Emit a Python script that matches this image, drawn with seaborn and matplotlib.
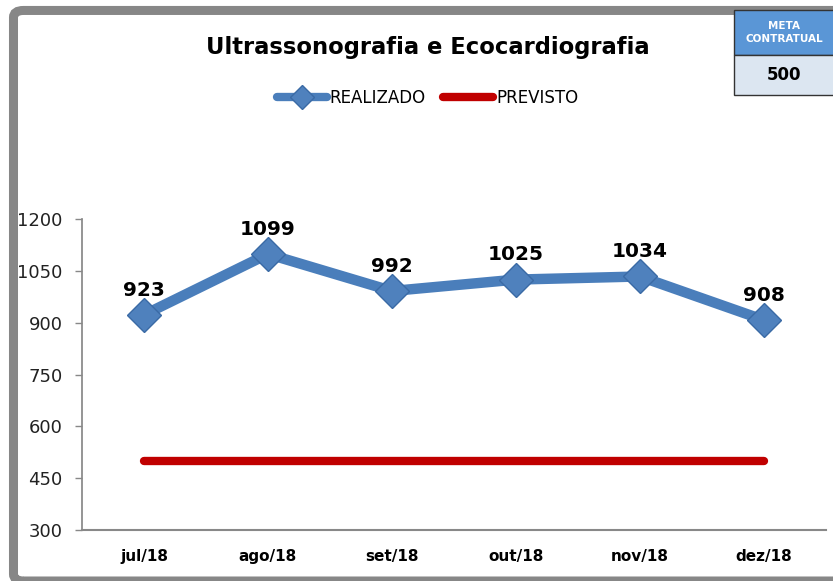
import pandas as pd
import matplotlib.pyplot as plt
import seaborn as sns
from matplotlib.patches import FancyBboxPatch, Rectangle
from matplotlib.lines import Line2D

meses = ['jul/18', 'ago/18', 'set/18', 'out/18', 'nov/18', 'dez/18']
realizado = [923, 1099, 992, 1025, 1034, 908]
previsto = [500, 500, 500, 500, 500, 500]
meta = 500
yticks = [300, 450, 600, 750, 900, 1050, 1200]

df = pd.DataFrame({'mes': meses, 'REALIZADO': realizado, 'PREVISTO': previsto})

sns.set_theme(style='white')
plt.rcParams['font.family'] = ['DejaVu Sans']
plt.rcParams['text.color'] = 'black'

fig = plt.figure(figsize=(8.33, 5.81), dpi=100)
ax = fig.add_axes([0.0984, 0.0878, 0.893, 0.535])

# outer frame of the chart area
fig.patches.append(FancyBboxPatch((0.0162, 0.0), 1.2, 0.982, boxstyle='round,pad=0,rounding_size=0.012',
                                  transform=fig.transFigure, fill=False, edgecolor='#878787',
                                  linewidth=6.5, zorder=0))

blue = '#4A7EBB'
red = '#C00000'

sns.lineplot(data=df, x='mes', y='PREVISTO', ax=ax, color=red, linewidth=6,
             solid_capstyle='round', sort=False)
sns.lineplot(data=df, x='mes', y='REALIZADO', ax=ax, color=blue, linewidth=7.5,
             marker='D', markersize=17, markerfacecolor='#4F81BD',
             markeredgecolor='#3A6AA5', markeredgewidth=1, sort=False)

for i, v in enumerate(realizado):
    ax.annotate(str(v), (i, v), xytext=(0, 11), textcoords='offset points',
                ha='center', va='bottom', fontsize=14.5, fontweight='bold', color='black')

ax.set_xlim(-0.5, 5.5)
ax.set_ylim(300, 1200)
ax.set_yticks(yticks)
ax.set_xlabel('')
ax.set_ylabel('')
ax.tick_params(axis='y', labelsize=13, labelcolor='#222222', color='#888888',
               length=5, width=1, direction='out', left=True, pad=9)
ax.tick_params(axis='x', length=0, pad=14, labelcolor='black')
for lab in ax.get_xticklabels():
    lab.set_fontweight('bold')
    lab.set_fontsize(11)
for s in ['top', 'right']:
    ax.spines[s].set_visible(False)
ax.spines['left'].set_color('#888888')
ax.spines['bottom'].set_color('#888888')
ax.spines['bottom'].set_linewidth(1.5)

fig.text(0.513, 0.918, 'Ultrassonografia e Ecocardiografia', ha='center', va='center',
         fontsize=16.3, fontweight='bold', color='black')

handles = [Line2D([], [], color=blue, linewidth=6, marker='D', markersize=12,
                  markerfacecolor='#4F81BD', markeredgecolor='#3A6AA5'),
           Line2D([], [], color=red, linewidth=6, solid_capstyle='round')]
fig.legend(handles, ['REALIZADO', 'PREVISTO'], loc='center', bbox_to_anchor=(0.513, 0.831),
           ncol=2, frameon=False, fontsize=12, handlelength=3, columnspacing=1.0,
           handletextpad=0.2, labelcolor='black')

# meta box
fig.patches.append(Rectangle((0.881, 0.905), 0.12, 0.078, transform=fig.transFigure,
                             facecolor='#5A96D6', edgecolor='#333333', linewidth=1, zorder=5))
fig.patches.append(Rectangle((0.881, 0.837), 0.12, 0.068, transform=fig.transFigure,
                             facecolor='#DCE6F1', edgecolor='#333333', linewidth=1, zorder=5))
fig.text(0.941, 0.944, 'META\nCONTRATUAL', ha='center', va='center', fontsize=7.5,
         fontweight='bold', color='white', linespacing=1.3, zorder=6)
fig.text(0.941, 0.871, str(meta), ha='center', va='center', fontsize=12,
         fontweight='bold', color='black', zorder=6)

fig.savefig('out.png', dpi=100)
